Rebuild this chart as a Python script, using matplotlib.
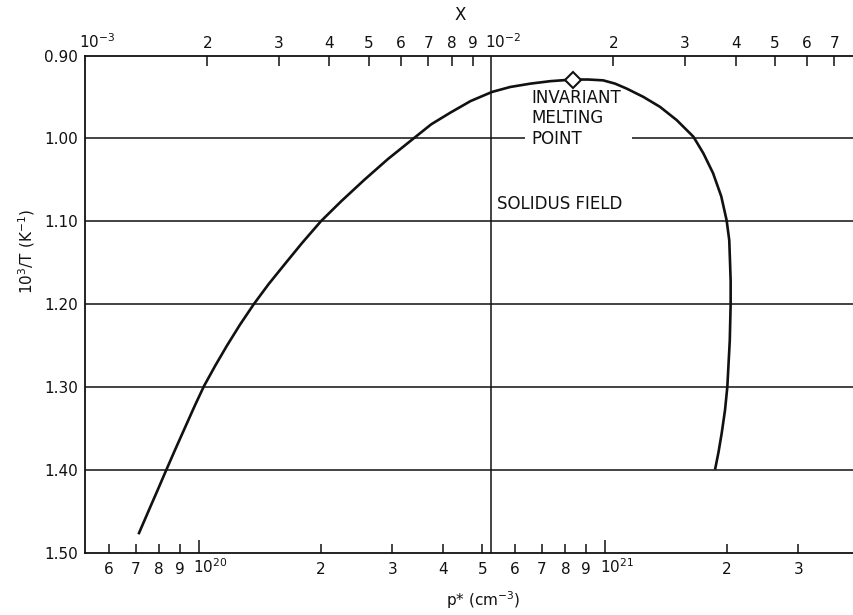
import matplotlib
matplotlib.use('Agg')
import matplotlib.pyplot as plt
import matplotlib.transforms as mtransforms
from matplotlib.ticker import FixedLocator, FixedFormatter

plt.rcParams['font.family'] = ['DejaVu Sans']
plt.rcParams['mathtext.fontset'] = 'dejavusans'

# ---------------- data ----------------
N_ATOMS = 5.25e22          # X = p* / N_ATOMS
P_MIN, P_MAX = 5.25e19, 4.5e21
T_MIN, T_MAX = 0.90, 1.50

# boundary curve: p* (units of 1e20 cm^-3) and 10^3/T (K^-1)
p_curve_e20 = [0.711, 0.754, 0.792, 0.833, 0.875, 0.924, 0.980, 1.031, 1.100,
               1.175, 1.264, 1.368, 1.487, 1.635, 1.800, 2.001, 2.244, 2.560,
               2.925, 3.385, 3.740, 4.167, 4.674, 5.277, 5.852, 6.554, 7.339,
               8.348, 9.103, 9.911, 10.61, 11.33, 12.45, 13.68, 15.04, 16.53,
               17.49, 18.48, 19.36, 19.96, 20.26, 20.34, 20.42, 20.42, 20.32,
               20.04, 19.78, 19.41, 19.06, 18.69]
t_curve = [1.478, 1.449, 1.425, 1.400, 1.376, 1.350, 1.322, 1.299, 1.274,
           1.250, 1.225, 1.200, 1.176, 1.151, 1.126, 1.100, 1.076, 1.050,
           1.025, 1.000, 0.983, 0.969, 0.955, 0.944, 0.938, 0.934, 0.931,
           0.929, 0.929, 0.930, 0.934, 0.940, 0.950, 0.962, 0.978, 0.998,
           1.018, 1.042, 1.070, 1.099, 1.123, 1.147, 1.172, 1.200, 1.244,
           1.300, 1.328, 1.356, 1.379, 1.400]
p_curve = [v * 1e20 for v in p_curve_e20]

melt_p = [8.33e20]
melt_t = [0.930]

grid_levels = [1.00, 1.10, 1.20, 1.30, 1.40]
gap_1_00 = (6.36e20, 11.65e20)

y_ticks = [0.90, 1.00, 1.10, 1.20, 1.30, 1.40, 1.50]
y_ticklabels = ['0.90', '1.00', '1.10', '1.20', '1.30', '1.40', '1.50']

bottom_major = [1e20, 1e21]
bottom_major_labels = ['$10^{20}$', '$10^{21}$']
bottom_minor = [6e19, 7e19, 8e19, 9e19, 2e20, 3e20, 4e20, 5e20, 6e20, 7e20,
                8e20, 9e20, 2e21, 3e21]
bottom_minor_labels = ['6', '7', '8', '9', '2', '3', '4', '5', '6', '7', '8', '9',
                       '2', '3']

top_major = [1e-3, 1e-2]
top_major_labels = ['$10^{-3}$', '$10^{-2}$']
top_minor = [2e-3, 3e-3, 4e-3, 5e-3, 6e-3, 7e-3, 8e-3, 9e-3,
             2e-2, 3e-2, 4e-2, 5e-2, 6e-2, 7e-2, 8e-2]
top_minor_labels = ['2', '3', '4', '5', '6', '7', '8', '9',
                    '2', '3', '4', '5', '6', '7', '8']

# ---------------- figure ----------------
W, H = 854, 615
fig = plt.figure(figsize=(W / 100, H / 100), dpi=100)
ax = fig.add_axes([85 / W, 1 - 552.5 / H, (870 - 85) / W, (552.5 - 55.5) / H])

INK = '#111111'
ax.set_xscale('log')
ax.set_xlim(P_MIN, P_MAX)
ax.set_ylim(T_MAX, T_MIN)

for s in ['left', 'bottom', 'top']:
    ax.spines[s].set_linewidth(1.3)
    ax.spines[s].set_color(INK)
ax.spines['right'].set_visible(False)

# grid lines
for lv in grid_levels:
    if abs(lv - 1.00) < 1e-9:
        ax.hlines(lv, P_MIN, gap_1_00[0], color=INK, lw=1.1)
        ax.hlines(lv, gap_1_00[1], P_MAX, color=INK, lw=1.1)
    else:
        ax.axhline(lv, color=INK, lw=1.1)
ax.axvline(N_ATOMS * 1e-2, color=INK, lw=1.1)

# curve
ax.plot(p_curve, t_curve, color=INK, lw=1.9, solid_joinstyle='round',
        solid_capstyle='butt')
ax.plot(melt_p, melt_t, marker='D', ms=8, mfc='white', mec=INK, mew=1.5,
        ls='none', zorder=5)

# texts
ax.text(6.59e20, 0.976, 'INVARIANT\nMELTING\nPOINT', fontsize=12, ha='left',
        va='center', linespacing=1.15, color=INK)
ax.text(5.44e20, 1.079, 'SOLIDUS FIELD', fontsize=12, ha='left', va='center',
        color=INK)

# y axis
ax.set_yticks(y_ticks)
ax.set_yticklabels(y_ticklabels)
ax.tick_params(axis='y', length=0, pad=5, labelsize=11, colors=INK)
ax.yaxis.set_minor_locator(FixedLocator([]))

# bottom axis
ax.xaxis.set_major_locator(FixedLocator(bottom_major))
ax.xaxis.set_major_formatter(FixedFormatter(bottom_major_labels))
ax.xaxis.set_minor_locator(FixedLocator(bottom_minor))
ax.xaxis.set_minor_formatter(FixedFormatter(bottom_minor_labels))
ax.tick_params(axis='x', which='major', direction='in', length=9.5, width=1.1,
               pad=7, labelsize=11, colors=INK)
ax.tick_params(axis='x', which='minor', direction='in', length=6.5, width=1.1,
               pad=7, labelsize=11, colors=INK)

# top axis
ax2 = ax.twiny()
ax2.set_xscale('log')
ax2.set_xlim(P_MIN / N_ATOMS, P_MAX / N_ATOMS)
for s in ax2.spines.values():
    s.set_visible(False)
ax2.xaxis.set_major_locator(FixedLocator(top_major))
ax2.xaxis.set_major_formatter(FixedFormatter(top_major_labels))
ax2.xaxis.set_minor_locator(FixedLocator(top_minor))
ax2.xaxis.set_minor_formatter(FixedFormatter(top_minor_labels))
ax2.tick_params(axis='x', which='major', direction='in', length=0, pad=3.5,
                labelsize=11, colors=INK)
ax2.tick_params(axis='x', which='minor', direction='in', length=7, width=1.1,
                pad=3.5, labelsize=11, colors=INK)

# shift the power-of-ten labels so "10" sits at the tick, exponent to the right
fig.canvas.draw()
off_b = mtransforms.ScaledTranslation(12 / 100, 5 / 100, fig.dpi_scale_trans)
for lab in ax.xaxis.get_majorticklabels():
    lab.set_transform(lab.get_transform() + off_b)
off_t = mtransforms.ScaledTranslation(12 / 100, 0, fig.dpi_scale_trans)
for lab in ax2.xaxis.get_majorticklabels():
    lab.set_transform(lab.get_transform() + off_t)

# axis titles
fig.text(483 / W, 1 - 600 / H, 'p* (cm$^{-3}$)', fontsize=11, ha='center',
         va='center', color=INK)
fig.text(460 / W, 1 - 15 / H, 'X', fontsize=12, ha='center', va='center',
         color=INK)
fig.text(27 / W, 1 - 252 / H, '10$^3$/T (K$^{-1}$)', fontsize=11, rotation=90,
         ha='center', va='center', color=INK)

fig.savefig('out.png', dpi=100)
